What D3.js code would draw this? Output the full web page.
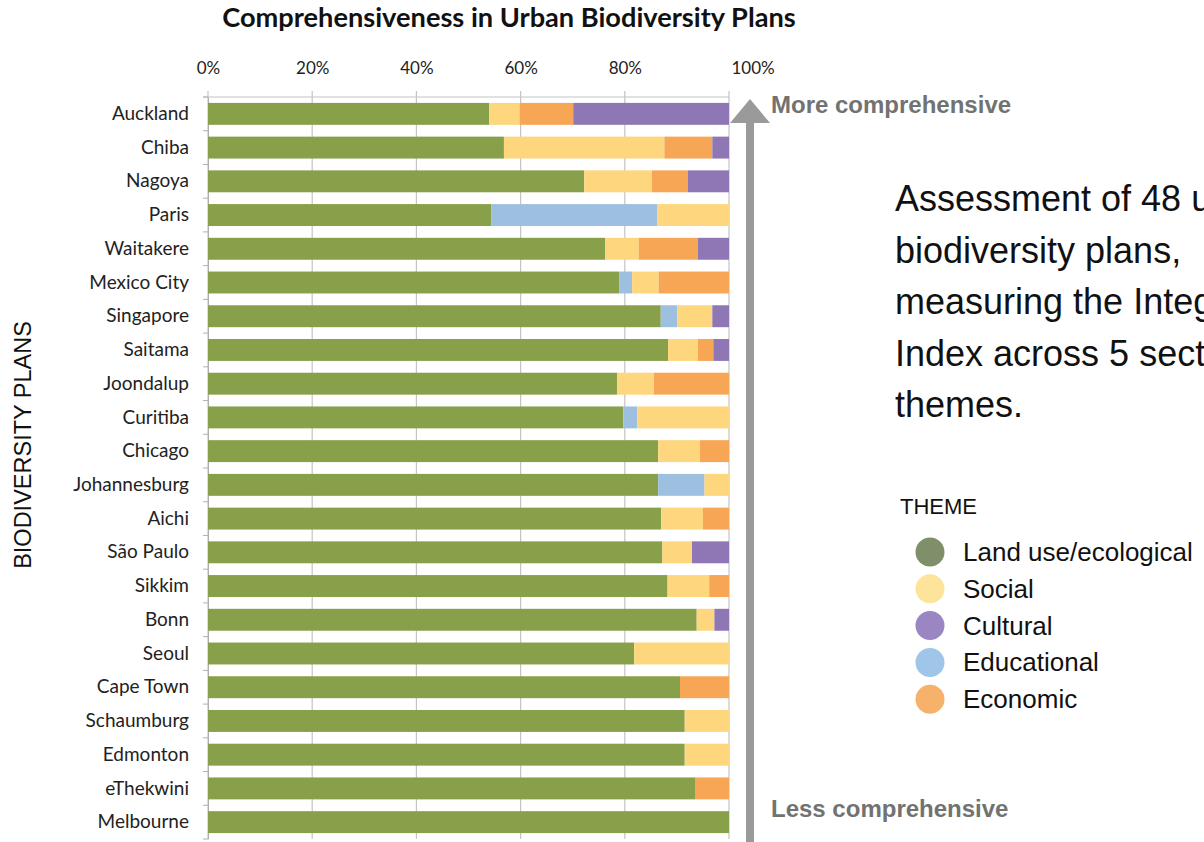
<!DOCTYPE html>
<html>
<head>
<meta charset="utf-8">
<script src="https://cdn.jsdelivr.net/npm/d3@7"></script>
<style>
  body { margin: 0; background: #fff; }
  svg { display: block; }
</style>
</head>
<body>
<script>

// ---- data (percent of each plan's index) ----
let cities = ["Auckland","Chiba","Nagoya","Paris","Waitakere","Mexico City","Singapore","Saitama",
	"Joondalup","Curitiba","Chicago","Johannesburg","Aichi","São Paulo","Sikkim","Bonn","Seoul",
	"Cape Town","Schaumburg","Edmonton","eThekwini","Melbourne"];
let landUse     = [54.0,56.8,72.2,54.4,76.2,78.9,86.9,88.3,78.5,79.7,86.4,86.4,87.0,87.2,88.2,93.8,81.8,90.6,91.5,91.5,93.6,100];
let educational = [0,0,0,31.8,0,2.5,3.2,0,0,2.7,0,8.9,0,0,0,0,0,0,0,0,0,0];
let social      = [5.8,30.8,13.0,13.8,6.5,5.1,6.7,5.7,7.1,17.6,8.0,4.7,8.0,5.7,8.0,3.4,18.2,0,8.5,8.5,0,0];
let economic    = [10.3,9.2,6.9,0,11.3,13.5,0,3.0,14.4,0,5.6,0,5.0,0,3.8,0,0,9.4,0,0,6.4,0];
let cultural    = [29.9,3.2,7.9,0,6.0,0,3.2,3.0,0,0,0,0,0,7.1,0,2.8,0,0,0,0,0,0];
let ticks = [0,20,40,60,80,100];
let legendNames = ["Land use/ecological","Social","Cultural","Educational","Economic"];
let descLines = ["Assessment of 48 urban","biodiversity plans,","measuring the Integration","Index across 5 sectoral","themes."];

let keys = ["landUse","educational","social","economic","cultural"];
let barColors = {landUse:"#88a04a", educational:"#9dbfe0", social:"#fdd67e", economic:"#f6a654", cultural:"#8e77b4"};
let legendColors = ["#7f8f6a","#fee39a","#9a86c3","#9fc5e8","#f6b26b"];

let rows = cities.map((c, i) => ({
	city: c, landUse: landUse[i], educational: educational[i], social: social[i],
	economic: economic[i], cultural: cultural[i]
}));

let svg = d3.select("body").append("svg")
	.attr("width", 1204)
	.attr("height", 842);

let x = d3.scaleLinear().domain([0,100]).range([208,729]);
let y = d3.scaleBand().domain(cities).range([97,839]).paddingInner(0.35).paddingOuter(0.175);

// title
svg.append("text")
	.attr("x", 509).attr("y", 27)
	.attr("text-anchor", "middle")
	.style("font-family", "Lato, 'Open Sans', sans-serif")
	.style("font-weight", "bold")
	.style("font-size", "27.2px")
	.attr("fill", "#111")
	.text("Comprehensiveness in Urban Biodiversity Plans");

// gridlines
svg.append("g").selectAll("line")
	.data(ticks)
	.join("line")
	.attr("x1", d => x(d)).attr("x2", d => x(d))
	.attr("y1", 91).attr("y2", 839)
	.attr("stroke", "#c4c4c4")
	.attr("stroke-width", 1.2);

svg.append("line")
	.attr("x1", 203).attr("x2", x(100))
	.attr("y1", 97).attr("y2", 97)
	.attr("stroke", "#c4c4c4")
	.attr("stroke-width", 1.2);

// top axis labels (the last one sits to the right of its line, as in the original)
let xAxis = d3.axisTop(x).tickValues(ticks).tickSize(0).tickPadding(0).tickFormat(d => d + "%");
let gx = svg.append("g").attr("transform", "translate(0,74)").call(xAxis);
gx.select(".domain").remove();
gx.selectAll("text")
	.style("font-family", "Lato, 'Open Sans', sans-serif")
	.style("font-size", "17px")
	.attr("fill", "#222");
gx.selectAll(".tick").filter(d => d === 100).select("text")
	.attr("text-anchor", "start")
	.attr("x", 2);

// left axis
let gy = svg.append("g").attr("transform", "translate(208,0)")
	.call(d3.axisLeft(y).tickSize(0).tickPadding(19));
gy.select(".domain").attr("stroke", "#b0b0b0");
gy.selectAll("text")
	.style("font-family", "Lato, 'Open Sans', sans-serif")
	.style("font-size", "19px")
	.attr("fill", "#222");

// small ticks between rows
let boundaries = cities.map(c => y(c) - y.step() * y.paddingInner() / 2);
boundaries.push(y(cities[cities.length - 1]) + y.bandwidth() + y.step() * y.paddingInner() / 2);
svg.append("g").selectAll("line")
	.data(boundaries)
	.join("line")
	.attr("x1", 203).attr("x2", 208)
	.attr("y1", d => d).attr("y2", d => d)
	.attr("stroke", "#b0b0b0");

// stacked bars
let series = d3.stack().keys(keys)(rows);
svg.append("g").selectAll("g")
	.data(series)
	.join("g")
	.attr("fill", d => barColors[d.key])
	.selectAll("rect")
	.data(d => d)
	.join("rect")
	.attr("x", d => x(d[0]))
	.attr("width", d => x(d[1]) - x(d[0]))
	.attr("y", d => y(d.data.city))
	.attr("height", y.bandwidth());

// y axis title
svg.append("text")
	.attr("transform", "translate(31,445) rotate(-90)")
	.attr("text-anchor", "middle")
	.style("font-family", "'Liberation Sans', Arial, sans-serif")
	.style("font-size", "23.5px")
	.attr("fill", "#111")
	.text("BIODIVERSITY PLANS");

// arrow
svg.append("line")
	.attr("x1", 750).attr("x2", 750)
	.attr("y1", 842).attr("y2", 118)
	.attr("stroke", "#9a9a9a")
	.attr("stroke-width", 8);
svg.append("path")
	.attr("d", d3.line()([[730,123],[750,99],[770,123]]) + "Z")
	.attr("fill", "#9a9a9a");

svg.append("text")
	.attr("x", 771).attr("y", 113)
	.style("font-family", "'Liberation Sans', Arial, sans-serif")
	.style("font-weight", "bold")
	.style("font-size", "24px")
	.attr("fill", "#727272")
	.text("More comprehensive");

svg.append("text")
	.attr("x", 771).attr("y", 817)
	.style("font-family", "'Liberation Sans', Arial, sans-serif")
	.style("font-weight", "bold")
	.style("font-size", "24px")
	.attr("fill", "#727272")
	.text("Less comprehensive");

// description (runs off the right edge, as in the original)
svg.append("g").selectAll("text")
	.data(descLines)
	.join("text")
	.attr("x", 895)
	.attr("y", (d, i) => 211 + i * 51.5)
	.style("font-family", "'Liberation Sans', Arial, sans-serif")
	.style("font-size", "36px")
	.attr("fill", "#111")
	.text(d => d);

// legend
svg.append("text")
	.attr("x", 900).attr("y", 514)
	.style("font-family", "'Liberation Sans', Arial, sans-serif")
	.style("font-size", "22px")
	.attr("fill", "#111")
	.text("THEME");

let legend = svg.append("g").selectAll("g")
	.data(legendNames)
	.join("g")
	.attr("transform", (d, i) => "translate(930," + (552 + i * 36.8) + ")");
legend.append("circle")
	.attr("r", 14.5)
	.attr("fill", (d, i) => legendColors[i]);
legend.append("text")
	.attr("x", 33).attr("y", 9)
	.style("font-family", "'Liberation Sans', Arial, sans-serif")
	.style("font-size", "26px")
	.attr("fill", "#111")
	.text(d => d);

</script>
</body>
</html>
